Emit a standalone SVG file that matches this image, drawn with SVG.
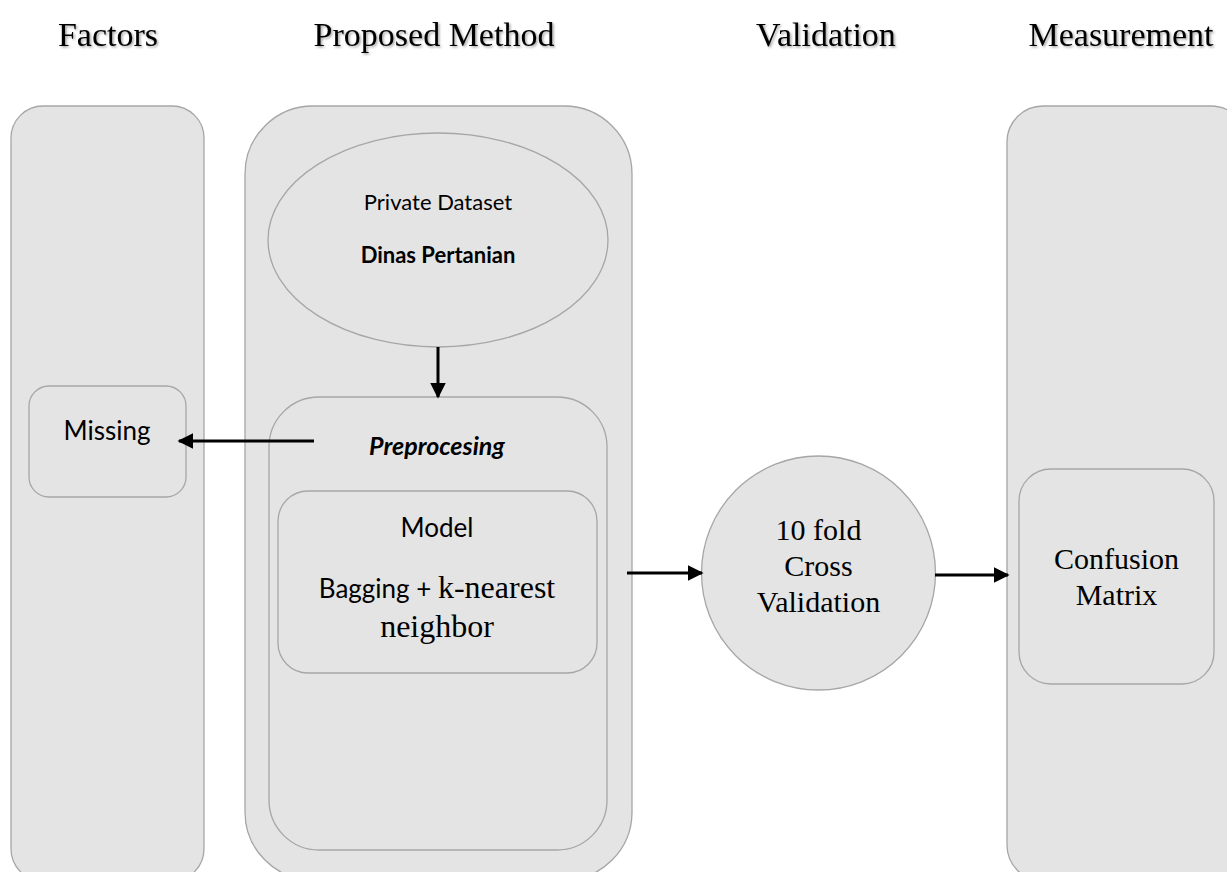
<svg xmlns="http://www.w3.org/2000/svg" width="1227" height="872" viewBox="0 0 1227 872">
<style>
.panel{fill:#e4e4e4;stroke:#a6a6a6;stroke-width:1.3}
.title{font-family:"Liberation Serif","Times New Roman",serif;font-size:34px;fill:#000;text-anchor:middle}
.cal{font-family:Lato,"Open Sans",sans-serif;fill:#000;text-anchor:middle}
.tnr{font-family:"Liberation Serif","Times New Roman",serif;fill:#000;text-anchor:middle}
.conn{stroke:#000;stroke-width:3;fill:none}
</style>
<defs>
<filter id="sh" x="-10%" y="-20%" width="130%" height="150%">
<feDropShadow dx="1.5" dy="1.5" stdDeviation="1" flood-color="#000" flood-opacity="0.35"/>
</filter>
<marker id="ah" viewBox="0 0 10 10" refX="9" refY="5" markerWidth="5.2" markerHeight="5.2" orient="auto" markerUnits="strokeWidth">
<path d="M0,0 L10,5 L0,10 z" fill="#000"/>
</marker>
</defs>
<rect width="1227" height="872" fill="#fff"/>
<g id="titles" filter="url(#sh)">
<text class="title" x="108" y="46">Factors</text>
<text class="title" x="434" y="46">Proposed Method</text>
<text class="title" x="826" y="46">Validation</text>
<text class="title" x="1121" y="46">Measurement</text>
</g>
<g id="factors-panel">
<rect class="panel" x="11" y="106" width="193" height="775" rx="32"/>
</g>
<g id="method-panel">
<rect class="panel" x="245" y="106" width="387" height="774" rx="68"/>
</g>
<g id="measurement-panel">
<rect class="panel" x="1007" y="106" width="240" height="775" rx="36"/>
</g>
<g id="dataset">
<ellipse class="panel" cx="438" cy="240" rx="170" ry="107"/>
<text class="cal" x="438" y="210" font-size="22">Private Dataset</text>
<text class="cal" x="438" y="263" font-size="22" font-weight="bold">Dinas Pertanian</text>
</g>
<g id="preprocessing">
<rect class="panel" x="269" y="397" width="338" height="453" rx="50"/>
<text class="cal" x="437" y="455" font-size="25" font-weight="bold" font-style="italic">Preprocesing</text>
</g>
<g id="model">
<rect class="panel" x="278" y="491" width="319" height="182" rx="30"/>
<text class="cal" x="437" y="537" font-size="26">Model</text>
<text x="437" y="598" text-anchor="middle"><tspan font-family="Lato,'Open Sans',sans-serif" font-size="26">Bagging + </tspan><tspan font-family="'Liberation Serif','Times New Roman',serif" font-size="32">k-nearest</tspan></text>
<text class="tnr" x="437" y="637" font-size="32">neighbor</text>
</g>
<g id="missing">
<rect class="panel" x="29" y="386" width="157" height="111" rx="20"/>
<text class="cal" x="107" y="440" font-size="26">Missing</text>
</g>
<g id="validation">
<circle class="panel" cx="818.5" cy="573" r="117"/>
<text class="tnr" x="818.5" y="540" font-size="30">10 fold</text>
<text class="tnr" x="818.5" y="576" font-size="30">Cross</text>
<text class="tnr" x="818.5" y="612" font-size="30">Validation</text>
</g>
<g id="confusion">
<rect class="panel" x="1019" y="469" width="195" height="215" rx="32"/>
<text class="tnr" x="1116.5" y="569" font-size="30">Confusion</text>
<text class="tnr" x="1116.5" y="605" font-size="30">Matrix</text>
</g>
<g id="connectors">
<line class="conn" x1="438" y1="347" x2="438" y2="397" marker-end="url(#ah)"/>
<line class="conn" x1="314" y1="441" x2="179" y2="441" marker-end="url(#ah)"/>
<line class="conn" x1="627" y1="573" x2="702" y2="573" marker-end="url(#ah)"/>
<line class="conn" x1="935" y1="575" x2="1008" y2="575" marker-end="url(#ah)"/>
</g>
</svg>
